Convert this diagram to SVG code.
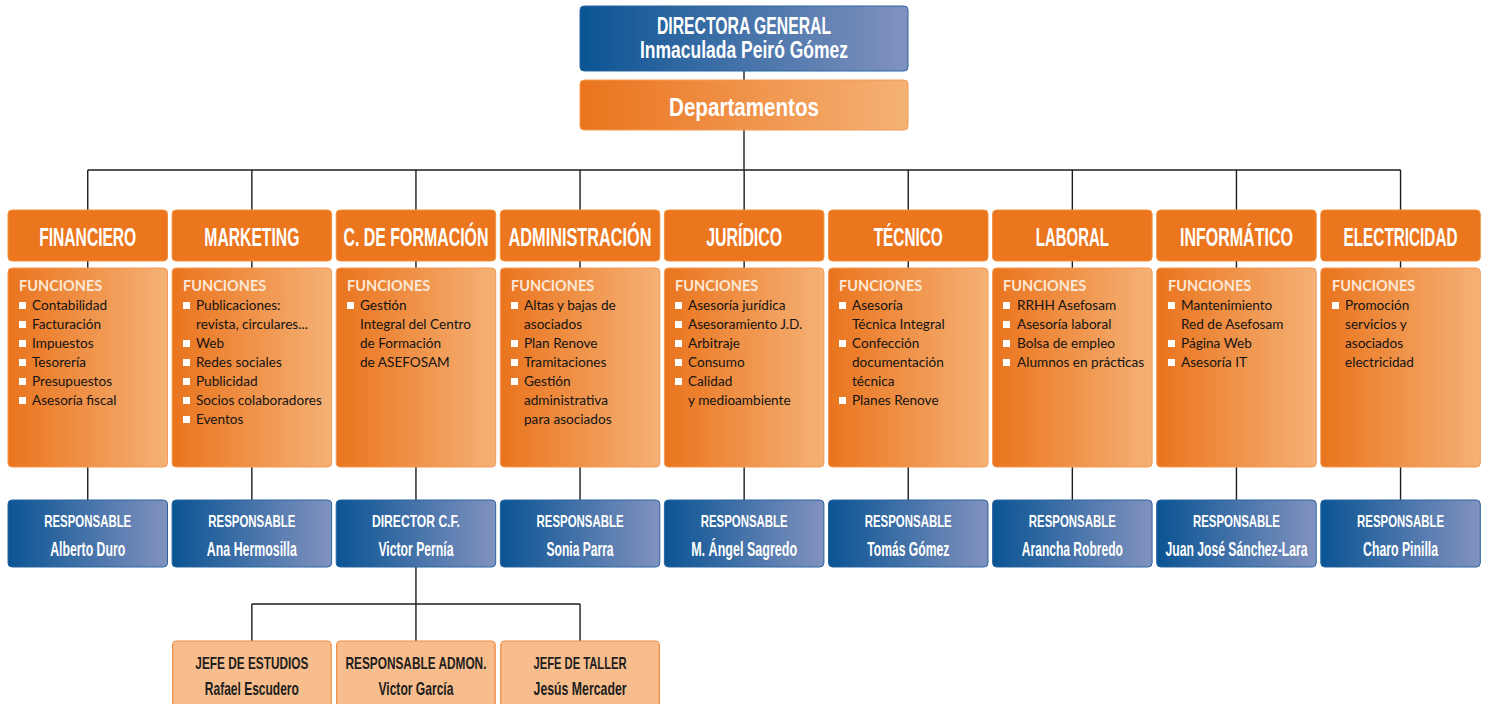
<svg xmlns="http://www.w3.org/2000/svg" width="1487" height="704" viewBox="0 0 1487 704">
<defs>
<linearGradient id="gBlue" x1="0" y1="0" x2="1" y2="0">
<stop offset="0" stop-color="#0a5493"/><stop offset="1" stop-color="#8192bf"/>
</linearGradient>
<linearGradient id="gOr" x1="0" y1="0" x2="1" y2="0">
<stop offset="0" stop-color="#ea741d"/><stop offset="1" stop-color="#f5b176"/>
</linearGradient>
<style>
.bg{fill:#ffffff}
.blue{fill:url(#gBlue);stroke:#2a65a0;stroke-width:1}
.hdr{fill:#eb761e;stroke:#f0913f;stroke-width:1}
.fn{fill:url(#gOr);stroke:#f39a55;stroke-width:1}
.low{fill:#f8bd8c;stroke:#ee8a3d;stroke-width:1.2}
.cn{font-family:"Liberation Sans",Arial,sans-serif;font-weight:bold;text-anchor:middle}
.w{fill:#ffffff}
.d{fill:#1e1e1e}
.ft{font-family:Lato,"Liberation Sans",sans-serif;font-weight:bold;font-size:14.5px;fill:#fde7d6}
.it{font-family:Lato,"Liberation Sans",sans-serif;font-size:13.6px;fill:#141414}
.bu{fill:#ffffff}
.ln{fill:none;stroke:#1e1e1e;stroke-width:1.4}
</style>
</defs>
<rect class="bg" x="0" y="0" width="1487" height="704"/>

<g id="connectors">
<path class="ln" d="M744 71V80M744 130V170M87.75 170H1400.55"/>
<path class="ln" d="M87.75 170V210M251.85 170V210M415.95 170V210M580.05 170V210M744.15 170V210M908.25 170V210M1072.35 170V210M1236.45 170V210M1400.55 170V210"/>
<path class="ln" d="M87.75 261V268M251.85 261V268M415.95 261V268M580.05 261V268M744.15 261V268M908.25 261V268M1072.35 261V268M1236.45 261V268M1400.55 261V268"/>
<path class="ln" d="M87.75 467V500M251.85 467V500M415.95 467V500M580.05 467V500M744.15 467V500M908.25 467V500M1072.35 467V500M1236.45 467V500M1400.55 467V500"/>
<path class="ln" d="M415.95 567V604M251.85 604H580.05M251.85 604V641M415.95 604V641M580.05 604V641"/>
</g>

<g id="directora">
<rect class="blue" x="580" y="6" width="328" height="65" rx="4"/>
<text class="cn w" x="744" y="34" font-size="23.5" textLength="174" lengthAdjust="spacingAndGlyphs">DIRECTORA GENERAL</text>
<text class="cn w" x="744" y="58" font-size="23.5" textLength="208" lengthAdjust="spacingAndGlyphs">Inmaculada Peiró Gómez</text>
</g>
<g id="departamentos">
<rect class="fn" x="580" y="80" width="328" height="50" rx="4"/>
<text class="cn w" x="744" y="116" font-size="26.5" textLength="150" lengthAdjust="spacingAndGlyphs">Departamentos</text>
</g>

<!-- Column 1 -->
<g id="financiero">
<rect class="hdr" x="8" y="210" width="159.5" height="51" rx="4"/>
<text class="cn w" x="87.75" y="246" font-size="25" textLength="97" lengthAdjust="spacingAndGlyphs">FINANCIERO</text>
</g>
<g id="f-financiero">
<rect class="fn" x="8" y="268" width="159.5" height="199" rx="4"/>
<text class="ft" x="19" y="291">FUNCIONES</text>
<rect class="bu" x="19" y="302" width="7" height="7"/><text class="it" x="32" y="310">Contabilidad</text>
<rect class="bu" x="19" y="321" width="7" height="7"/><text class="it" x="32" y="329">Facturación</text>
<rect class="bu" x="19" y="340" width="7" height="7"/><text class="it" x="32" y="348">Impuestos</text>
<rect class="bu" x="19" y="359" width="7" height="7"/><text class="it" x="32" y="367">Tesorería</text>
<rect class="bu" x="19" y="378" width="7" height="7"/><text class="it" x="32" y="386">Presupuestos</text>
<rect class="bu" x="19" y="397" width="7" height="7"/><text class="it" x="32" y="405">Asesoría fiscal</text>
</g>
<g id="r-financiero">
<rect class="blue" x="8" y="500" width="159.5" height="67" rx="4"/>
<text class="cn w" x="87.75" y="527" font-size="17" textLength="87" lengthAdjust="spacingAndGlyphs">RESPONSABLE</text>
<text class="cn w" x="87.75" y="556" font-size="19.5" textLength="75" lengthAdjust="spacingAndGlyphs">Alberto Duro</text>
</g>

<!-- Column 2 -->
<g id="marketing">
<rect class="hdr" x="172.1" y="210" width="159.5" height="51" rx="4"/>
<text class="cn w" x="251.85" y="246" font-size="25" textLength="95" lengthAdjust="spacingAndGlyphs">MARKETING</text>
</g>
<g id="f-marketing">
<rect class="fn" x="172.1" y="268" width="159.5" height="199" rx="4"/>
<text class="ft" x="183" y="291">FUNCIONES</text>
<rect class="bu" x="183" y="302" width="7" height="7"/><text class="it" x="196" y="310">Publicaciones:</text>
<text class="it" x="196" y="329">revista, circulares...</text>
<rect class="bu" x="183" y="340" width="7" height="7"/><text class="it" x="196" y="348">Web</text>
<rect class="bu" x="183" y="359" width="7" height="7"/><text class="it" x="196" y="367">Redes sociales</text>
<rect class="bu" x="183" y="378" width="7" height="7"/><text class="it" x="196" y="386">Publicidad</text>
<rect class="bu" x="183" y="397" width="7" height="7"/><text class="it" x="196" y="405">Socios colaboradores</text>
<rect class="bu" x="183" y="416" width="7" height="7"/><text class="it" x="196" y="424">Eventos</text>
</g>
<g id="r-marketing">
<rect class="blue" x="172.1" y="500" width="159.5" height="67" rx="4"/>
<text class="cn w" x="251.85" y="527" font-size="17" textLength="87" lengthAdjust="spacingAndGlyphs">RESPONSABLE</text>
<text class="cn w" x="251.85" y="556" font-size="19.5" textLength="90" lengthAdjust="spacingAndGlyphs">Ana Hermosilla</text>
</g>

<!-- Column 3 -->
<g id="formacion">
<rect class="hdr" x="336.2" y="210" width="159.5" height="51" rx="4"/>
<text class="cn w" x="415.95" y="246" font-size="25" textLength="145" lengthAdjust="spacingAndGlyphs">C. DE FORMACIÓN</text>
</g>
<g id="f-formacion">
<rect class="fn" x="336.2" y="268" width="159.5" height="199" rx="4"/>
<text class="ft" x="347" y="291">FUNCIONES</text>
<rect class="bu" x="347" y="302" width="7" height="7"/><text class="it" x="360" y="310">Gestión</text>
<text class="it" x="360" y="329">Integral del Centro</text>
<text class="it" x="360" y="348">de Formación</text>
<text class="it" x="360" y="367">de ASEFOSAM</text>
</g>
<g id="r-formacion">
<rect class="blue" x="336.2" y="500" width="159.5" height="67" rx="4"/>
<text class="cn w" x="415.95" y="527" font-size="17" textLength="88" lengthAdjust="spacingAndGlyphs">DIRECTOR C.F.</text>
<text class="cn w" x="415.95" y="556" font-size="19.5" textLength="75" lengthAdjust="spacingAndGlyphs">Victor Pernía</text>
</g>

<!-- Column 4 -->
<g id="administracion">
<rect class="hdr" x="500.3" y="210" width="159.5" height="51" rx="4"/>
<text class="cn w" x="580.05" y="246" font-size="25" textLength="143" lengthAdjust="spacingAndGlyphs">ADMINISTRACIÓN</text>
</g>
<g id="f-administracion">
<rect class="fn" x="500.3" y="268" width="159.5" height="199" rx="4"/>
<text class="ft" x="511" y="291">FUNCIONES</text>
<rect class="bu" x="511" y="302" width="7" height="7"/><text class="it" x="524" y="310">Altas y bajas de</text>
<text class="it" x="524" y="329">asociados</text>
<rect class="bu" x="511" y="340" width="7" height="7"/><text class="it" x="524" y="348">Plan Renove</text>
<rect class="bu" x="511" y="359" width="7" height="7"/><text class="it" x="524" y="367">Tramitaciones</text>
<rect class="bu" x="511" y="378" width="7" height="7"/><text class="it" x="524" y="386">Gestión</text>
<text class="it" x="524" y="405">administrativa</text>
<text class="it" x="524" y="424">para asociados</text>
</g>
<g id="r-administracion">
<rect class="blue" x="500.3" y="500" width="159.5" height="67" rx="4"/>
<text class="cn w" x="580.05" y="527" font-size="17" textLength="87" lengthAdjust="spacingAndGlyphs">RESPONSABLE</text>
<text class="cn w" x="580.05" y="556" font-size="19.5" textLength="67" lengthAdjust="spacingAndGlyphs">Sonia Parra</text>
</g>

<!-- Column 5 -->
<g id="juridico">
<rect class="hdr" x="664.4" y="210" width="159.5" height="51" rx="4"/>
<text class="cn w" x="744.15" y="246" font-size="25" textLength="76" lengthAdjust="spacingAndGlyphs">JURÍDICO</text>
</g>
<g id="f-juridico">
<rect class="fn" x="664.4" y="268" width="159.5" height="199" rx="4"/>
<text class="ft" x="675" y="291">FUNCIONES</text>
<rect class="bu" x="675" y="302" width="7" height="7"/><text class="it" x="688" y="310">Asesoría jurídica</text>
<rect class="bu" x="675" y="321" width="7" height="7"/><text class="it" x="688" y="329">Asesoramiento J.D.</text>
<rect class="bu" x="675" y="340" width="7" height="7"/><text class="it" x="688" y="348">Arbitraje</text>
<rect class="bu" x="675" y="359" width="7" height="7"/><text class="it" x="688" y="367">Consumo</text>
<rect class="bu" x="675" y="378" width="7" height="7"/><text class="it" x="688" y="386">Calidad</text>
<text class="it" x="688" y="405">y medioambiente</text>
</g>
<g id="r-juridico">
<rect class="blue" x="664.4" y="500" width="159.5" height="67" rx="4"/>
<text class="cn w" x="744.15" y="527" font-size="17" textLength="87" lengthAdjust="spacingAndGlyphs">RESPONSABLE</text>
<text class="cn w" x="744.15" y="556" font-size="19.5" textLength="106" lengthAdjust="spacingAndGlyphs">M. Ángel Sagredo</text>
</g>

<!-- Column 6 -->
<g id="tecnico">
<rect class="hdr" x="828.5" y="210" width="159.5" height="51" rx="4"/>
<text class="cn w" x="908.25" y="246" font-size="25" textLength="69" lengthAdjust="spacingAndGlyphs">TÉCNICO</text>
</g>
<g id="f-tecnico">
<rect class="fn" x="828.5" y="268" width="159.5" height="199" rx="4"/>
<text class="ft" x="839" y="291">FUNCIONES</text>
<rect class="bu" x="839" y="302" width="7" height="7"/><text class="it" x="852" y="310">Asesoría</text>
<text class="it" x="852" y="329">Técnica Integral</text>
<rect class="bu" x="839" y="340" width="7" height="7"/><text class="it" x="852" y="348">Confección</text>
<text class="it" x="852" y="367">documentación</text>
<text class="it" x="852" y="386">técnica</text>
<rect class="bu" x="839" y="397" width="7" height="7"/><text class="it" x="852" y="405">Planes Renove</text>
</g>
<g id="r-tecnico">
<rect class="blue" x="828.5" y="500" width="159.5" height="67" rx="4"/>
<text class="cn w" x="908.25" y="527" font-size="17" textLength="87" lengthAdjust="spacingAndGlyphs">RESPONSABLE</text>
<text class="cn w" x="908.25" y="556" font-size="19.5" textLength="82" lengthAdjust="spacingAndGlyphs">Tomás Gómez</text>
</g>

<!-- Column 7 -->
<g id="laboral">
<rect class="hdr" x="992.6" y="210" width="159.5" height="51" rx="4"/>
<text class="cn w" x="1072.35" y="246" font-size="25" textLength="73" lengthAdjust="spacingAndGlyphs">LABORAL</text>
</g>
<g id="f-laboral">
<rect class="fn" x="992.6" y="268" width="159.5" height="199" rx="4"/>
<text class="ft" x="1003" y="291">FUNCIONES</text>
<rect class="bu" x="1003" y="302" width="7" height="7"/><text class="it" x="1017" y="310">RRHH Asefosam</text>
<rect class="bu" x="1003" y="321" width="7" height="7"/><text class="it" x="1017" y="329">Asesoría laboral</text>
<rect class="bu" x="1003" y="340" width="7" height="7"/><text class="it" x="1017" y="348">Bolsa de empleo</text>
<rect class="bu" x="1003" y="359" width="7" height="7"/><text class="it" x="1017" y="367">Alumnos en prácticas</text>
</g>
<g id="r-laboral">
<rect class="blue" x="992.6" y="500" width="159.5" height="67" rx="4"/>
<text class="cn w" x="1072.35" y="527" font-size="17" textLength="87" lengthAdjust="spacingAndGlyphs">RESPONSABLE</text>
<text class="cn w" x="1072.35" y="556" font-size="19.5" textLength="101" lengthAdjust="spacingAndGlyphs">Arancha Robredo</text>
</g>

<!-- Column 8 -->
<g id="informatico">
<rect class="hdr" x="1156.7" y="210" width="159.5" height="51" rx="4"/>
<text class="cn w" x="1236.45" y="246" font-size="25" textLength="113" lengthAdjust="spacingAndGlyphs">INFORMÁTICO</text>
</g>
<g id="f-informatico">
<rect class="fn" x="1156.7" y="268" width="159.5" height="199" rx="4"/>
<text class="ft" x="1168" y="291">FUNCIONES</text>
<rect class="bu" x="1168" y="302" width="7" height="7"/><text class="it" x="1181" y="310">Mantenimiento</text>
<text class="it" x="1181" y="329">Red de Asefosam</text>
<rect class="bu" x="1168" y="340" width="7" height="7"/><text class="it" x="1181" y="348">Página Web</text>
<rect class="bu" x="1168" y="359" width="7" height="7"/><text class="it" x="1181" y="367">Asesoría IT</text>
</g>
<g id="r-informatico">
<rect class="blue" x="1156.7" y="500" width="159.5" height="67" rx="4"/>
<text class="cn w" x="1236.45" y="527" font-size="17" textLength="87" lengthAdjust="spacingAndGlyphs">RESPONSABLE</text>
<text class="cn w" x="1236.45" y="556" font-size="19.5" textLength="142" lengthAdjust="spacingAndGlyphs">Juan José Sánchez-Lara</text>
</g>

<!-- Column 9 -->
<g id="electricidad">
<rect class="hdr" x="1320.8" y="210" width="159.5" height="51" rx="4"/>
<text class="cn w" x="1400.55" y="246" font-size="25" textLength="114" lengthAdjust="spacingAndGlyphs">ELECTRICIDAD</text>
</g>
<g id="f-electricidad">
<rect class="fn" x="1320.8" y="268" width="159.5" height="199" rx="4"/>
<text class="ft" x="1332" y="291">FUNCIONES</text>
<rect class="bu" x="1332" y="302" width="7" height="7"/><text class="it" x="1345" y="310">Promoción</text>
<text class="it" x="1345" y="329">servicios y</text>
<text class="it" x="1345" y="348">asociados</text>
<text class="it" x="1345" y="367">electricidad</text>
</g>
<g id="r-electricidad">
<rect class="blue" x="1320.8" y="500" width="159.5" height="67" rx="4"/>
<text class="cn w" x="1400.55" y="527" font-size="17" textLength="87" lengthAdjust="spacingAndGlyphs">RESPONSABLE</text>
<text class="cn w" x="1400.55" y="556" font-size="19.5" textLength="75" lengthAdjust="spacingAndGlyphs">Charo Pinilla</text>
</g>

<!-- Lower level -->
<g id="jefe-estudios">
<rect class="low" x="172.6" y="641" width="158.5" height="70" rx="4"/>
<text class="cn d" x="251.85" y="669" font-size="17" textLength="113" lengthAdjust="spacingAndGlyphs">JEFE DE ESTUDIOS</text>
<text class="cn d" x="251.85" y="695" font-size="18.5" textLength="94" lengthAdjust="spacingAndGlyphs">Rafael Escudero</text>
</g>
<g id="resp-admon">
<rect class="low" x="336.7" y="641" width="158.5" height="70" rx="4"/>
<text class="cn d" x="415.95" y="669" font-size="17" textLength="141" lengthAdjust="spacingAndGlyphs">RESPONSABLE ADMON.</text>
<text class="cn d" x="415.95" y="695" font-size="18.5" textLength="75" lengthAdjust="spacingAndGlyphs">Victor García</text>
</g>
<g id="jefe-taller">
<rect class="low" x="500.8" y="641" width="158.5" height="70" rx="4"/>
<text class="cn d" x="580.05" y="669" font-size="17" textLength="93" lengthAdjust="spacingAndGlyphs">JEFE DE TALLER</text>
<text class="cn d" x="580.05" y="695" font-size="18.5" textLength="93" lengthAdjust="spacingAndGlyphs">Jesús Mercader</text>
</g>
</svg>
